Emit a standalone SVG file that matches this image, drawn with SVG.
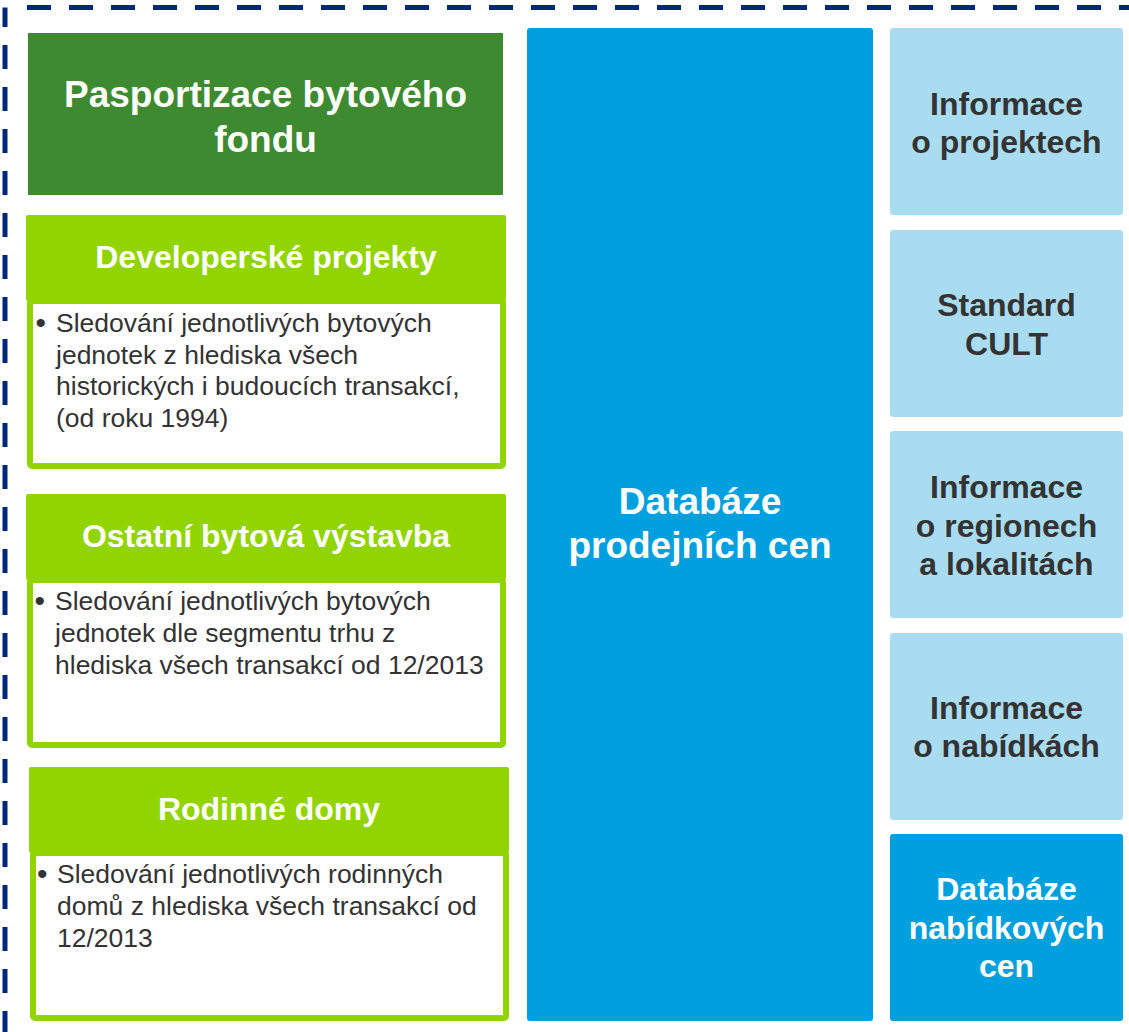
<svg xmlns="http://www.w3.org/2000/svg" width="1129" height="1032" viewBox="0 0 1129 1032">
<style>
.frame{fill:none;stroke:#00287a;stroke-width:5;stroke-dasharray:24 18}
.dk{fill:#3e8a31}
.hd{fill:#92d400}
.body{fill:#ffffff;stroke:#92d400;stroke-width:6}
.bl{fill:#00a0de}
.lb{fill:#aadcf1}
.wt{font-family:"Liberation Sans",Arial,sans-serif;font-weight:bold;fill:#ffffff;text-anchor:middle}
.gt{font-family:"Liberation Sans",Arial,sans-serif;font-weight:bold;fill:#333333;text-anchor:middle;font-size:32px}
.tx{font-family:"Liberation Sans",Arial,sans-serif;fill:#333333;font-size:26.5px}
.bu{font-family:"Liberation Sans",Arial,sans-serif;fill:#333333;font-size:30px}
</style>
<rect width="1129" height="1032" fill="#ffffff"/>
<g id="frame">
<path class="frame" d="M5,7.5 V1040" stroke-dashoffset="4.5"/>
<path class="frame" d="M9,7.5 H1140" stroke-dashoffset="24"/>
</g>
<g id="pasportizace">
<rect class="dk" x="28" y="33" width="475" height="162"/>
<text class="wt" font-size="37" x="265.5" y="107">Pasportizace bytového</text>
<text class="wt" font-size="37" x="265.5" y="152">fondu</text>
</g>
<g id="developerske">
<rect class="hd" x="26" y="215" width="480" height="86" rx="2"/>
<rect class="body" x="30" y="301" width="473" height="165" rx="2"/>
<text class="wt" font-size="32" x="266" y="268">Developerské projekty</text>
<text class="bu" x="35.5" y="333">•</text>
<text class="tx" x="56" y="332">Sledování jednotlivých bytových</text>
<text class="tx" x="56" y="364">jednotek z hlediska všech</text>
<text class="tx" x="56" y="395">historických i budoucích transakcí,</text>
<text class="tx" x="56" y="427">(od roku 1994)</text>
</g>
<g id="ostatni">
<rect class="hd" x="26" y="494" width="480" height="86" rx="2"/>
<rect class="body" x="30" y="580" width="473" height="165" rx="2"/>
<text class="wt" font-size="32" x="266" y="547">Ostatní bytová výstavba</text>
<text class="bu" x="34.5" y="611">•</text>
<text class="tx" x="55" y="610">Sledování jednotlivých bytových</text>
<text class="tx" x="55" y="642">jednotek dle segmentu trhu z</text>
<text class="tx" x="55" y="674">hlediska všech transakcí od 12/2013</text>
</g>
<g id="rodinne">
<rect class="hd" x="29" y="767" width="480" height="86" rx="2"/>
<rect class="body" x="33" y="853" width="473" height="165" rx="2"/>
<text class="wt" font-size="32" x="269" y="820">Rodinné domy</text>
<text class="bu" x="37" y="884">•</text>
<text class="tx" x="57" y="883">Sledování jednotlivých rodinných</text>
<text class="tx" x="57" y="915">domů z hlediska všech transakcí od</text>
<text class="tx" x="57" y="947">12/2013</text>
</g>
<g id="databaze-prodejnich">
<rect class="bl" x="527" y="28" width="346" height="993" rx="3"/>
<text class="wt" font-size="37" x="700" y="514">Databáze</text>
<text class="wt" font-size="37" x="700" y="558">prodejních cen</text>
</g>
<g id="info-projekty">
<rect class="lb" x="890" y="28" width="233" height="187" rx="3"/>
<text class="gt" x="1006.5" y="115">Informace</text>
<text class="gt" x="1006.5" y="153">o projektech</text>
</g>
<g id="standard-cult">
<rect class="lb" x="890" y="230" width="233" height="187" rx="3"/>
<text class="gt" x="1006.5" y="316">Standard</text>
<text class="gt" x="1006.5" y="355">CULT</text>
</g>
<g id="info-regiony">
<rect class="lb" x="890" y="431" width="233" height="187" rx="3"/>
<text class="gt" x="1006.5" y="498">Informace</text>
<text class="gt" x="1006.5" y="537">o regionech</text>
<text class="gt" x="1006.5" y="575">a lokalitách</text>
</g>
<g id="info-nabidky">
<rect class="lb" x="890" y="633" width="233" height="187" rx="3"/>
<text class="gt" x="1006.5" y="719">Informace</text>
<text class="gt" x="1006.5" y="757">o nabídkách</text>
</g>
<g id="databaze-nabidkovych">
<rect class="bl" x="890" y="834" width="233" height="187" rx="3"/>
<text class="wt" font-size="32" x="1006.5" y="900">Databáze</text>
<text class="wt" font-size="32" x="1006.5" y="939">nabídkových</text>
<text class="wt" font-size="32" x="1006.5" y="977">cen</text>
</g>
<g id="connectors"/>
</svg>
